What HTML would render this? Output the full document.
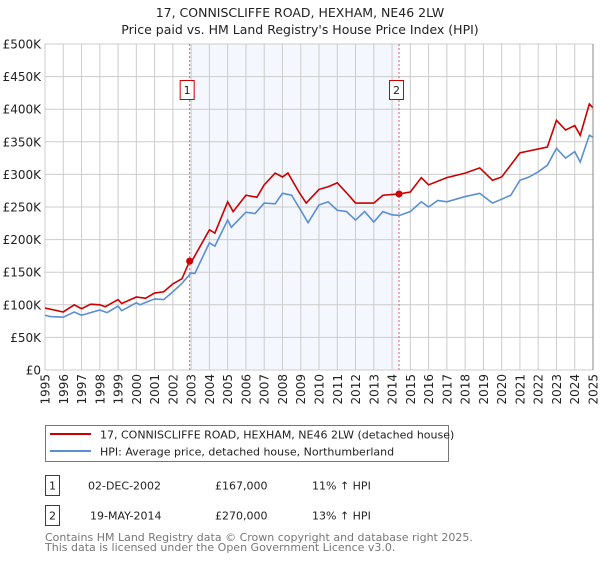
<!DOCTYPE html>
<html><head><meta charset="utf-8"><style>
body{margin:0;background:#fff;font-family:"Liberation Sans","DejaVu Sans",sans-serif;}
svg text{font-family:"DejaVu Sans","Liberation Sans",sans-serif;}
</style></head><body>
<svg id="c" width="600" height="560" xmlns="http://www.w3.org/2000/svg">
<text x="300" y="17" text-anchor="middle" font-size="12.5" fill="#222">17, CONNISCLIFFE ROAD, HEXHAM, NE46 2LW</text>
<text x="300" y="34" text-anchor="middle" font-size="12.5" fill="#222">Price paid vs. HM Land Registry's House Price Index (HPI)</text>
<g id="plot"></g>
<rect x="45.5" y="425.5" width="403" height="36" fill="none" stroke="#777"/>
<line x1="50" y1="434" x2="91" y2="434" stroke="#cc0000" stroke-width="2"/>
<text x="100" y="438.5" font-size="11" fill="#222">17, CONNISCLIFFE ROAD, HEXHAM, NE46 2LW (detached house)</text>
<line x1="50" y1="451" x2="91" y2="451" stroke="#5b8fd4" stroke-width="2"/>
<text x="100" y="455.5" font-size="11" fill="#222">HPI: Average price, detached house, Northumberland</text>
<rect x="45.5" y="475.5" width="14" height="20" fill="none" stroke="#cc0000"/>
<text x="52.5" y="489.5" text-anchor="middle" font-size="11" fill="#222">1</text>
<text x="88" y="489.5" font-size="11" fill="#222">02-DEC-2002</text>
<text x="215" y="489.5" font-size="11" fill="#222">£167,000</text>
<text x="312" y="489.5" font-size="11" fill="#222">11% ↑ HPI</text>
<rect x="45.5" y="505.5" width="14" height="20" fill="none" stroke="#cc0000"/>
<text x="52.5" y="519.5" text-anchor="middle" font-size="11" fill="#222">2</text>
<text x="90" y="519.5" font-size="11" fill="#222">19-MAY-2014</text>
<text x="215" y="519.5" font-size="11" fill="#222">£270,000</text>
<text x="312" y="519.5" font-size="11" fill="#222">13% ↑ HPI</text>
<text x="45" y="541" font-size="11" fill="#777">Contains HM Land Registry data © Crown copyright and database right 2025.</text>
<text x="45" y="551" font-size="11" fill="#777">This data is licensed under the Open Government Licence v3.0.</text>
</svg>
<script>
const hpiYears=[1995,1995.3,1996,1996.6,1997,1998,1998.4,1999,1999.2,2000,2000.2,2001,2001.5,2002,2002.5,2003,2003.2,2004,2004.3,2005,2005.2,2006,2006.5,2007,2007.6,2008,2008.5,2009,2009.4,2010,2010.5,2011,2011.5,2012,2012.5,2013,2013.5,2014,2014.4,2015,2015.6,2016,2016.5,2017,2018,2018.8,2019.5,2020,2020.5,2021,2021.5,2022,2022.5,2023,2023.5,2024,2024.3,2024.8,2025];
const hpiValues=[84,82,81,89,84,92,88,98,91,103,100,109,108,120,133,149,148,195,190,230,219,242,240,256,255,271,268,245,226,253,258,245,243,230,243,227,243,238,237,243,258,250,260,258,266,271,256,262,268,291,296,304,314,340,325,335,319,360,357];
const redYears=[1995,1995.5,1996,1996.6,1997,1997.5,1998,1998.3,1999,1999.2,2000,2000.5,2001,2001.5,2002,2002.5,2002.92,2003,2004,2004.3,2005,2005.3,2006,2006.6,2007,2007.6,2008,2008.3,2008.9,2009.3,2010,2010.5,2011,2011.5,2012,2013,2013.5,2014.38,2015,2015.6,2016,2017,2018,2018.8,2019.5,2020,2021,2022.5,2023,2023.5,2024,2024.3,2024.8,2025];
const redValues=[95,92,89,100,94,101,100,97,108,102,112,110,118,120,132,140,167,165,215,210,258,243,268,265,284,302,296,302,273,256,277,281,287,272,256,256,268,270,273,295,284,295,302,310,291,296,333,342,383,368,375,360,408,402];
const sales=[[2002.92,167],[2014.38,270]];
const yTicks=[0,50,100,150,200,250,300,350,400,450,500];
const yTickLabels=["£0","£50K","£100K","£150K","£200K","£250K","£300K","£350K","£400K","£450K","£500K"];
const xTicks=[1995,1996,1997,1998,1999,2000,2001,2002,2003,2004,2005,2006,2007,2008,2009,2010,2011,2012,2013,2014,2015,2016,2017,2018,2019,2020,2021,2022,2023,2024,2025];
const X0=45,X1=593,Y0=370,Y1=44;
const xs=v=>X0+(v-1995)/30*(X1-X0);
const ys=v=>Y0-v/500*(Y0-Y1);
const g=document.getElementById('plot');
const NS='http://www.w3.org/2000/svg';
function mk(t,a){const e=document.createElementNS(NS,t);for(const k in a)e.setAttribute(k,a[k]);g.appendChild(e);return e;}
let e=mk('rect',{x:xs(sales[0][0]),y:Y1,width:xs(sales[1][0])-xs(sales[0][0]),height:Y0-Y1,fill:'#f4f7fd'});


yTicks.forEach((t,i)=>{
 let l=mk('line',{x1:X0,x2:X1,y1:ys(t),y2:ys(t),stroke:'#ccc'});
 
 
 let tx=mk('text',{x:41,y:ys(t)+4.5,'text-anchor':'end','font-size':12,fill:'#222'});
 tx.textContent=yTickLabels[i];
 
 
});
xTicks.forEach(t=>{
 let l=mk('line',{x1:xs(t),x2:xs(t),y1:Y1,y2:Y0,stroke:'#ccc'});
 
 
 let tx=mk('text',{x:0,y:0,'text-anchor':'end','font-size':12,fill:'#222',transform:`translate(${xs(t)+4.5},374) rotate(-90)`});
 tx.textContent=t;
 
 
});
sales.forEach((s,i)=>{
 let l=mk('line',{x1:xs(s[0]),x2:xs(s[0]),y1:Y1,y2:Y0,stroke:'#e06060','stroke-dasharray':'2,2'});
 
 
 let r=mk('rect',{x:xs(s[0])-9.5,y:80.5,width:14,height:19,fill:'#fff',stroke:'#cc0000'});
 
 
 let tx=mk('text',{x:xs(s[0])-2.5,y:94,'text-anchor':'middle','font-size':11,fill:'#222'});
 tx.textContent=String(i+1);
 
 
});
const hp=mk('polyline',{points:hpiYears.map((y,i)=>xs(y)+','+ys(hpiValues[i])).join(' '),fill:'none',stroke:'#5b8fd4','stroke-width':1.6});


const rp=mk('polyline',{points:redYears.map((y,i)=>xs(y)+','+ys(redValues[i])).join(' '),fill:'none',stroke:'#cc0000','stroke-width':1.6});


sales.forEach(s=>{
 let c=mk('circle',{cx:xs(s[0]),cy:ys(s[1]),r:3.5,fill:'#cc0000'});
 
 
});
let ax=mk('line',{x1:X1,x2:X1,y1:Y1,y2:Y0,stroke:'#888'});


</script>
</body></html>
